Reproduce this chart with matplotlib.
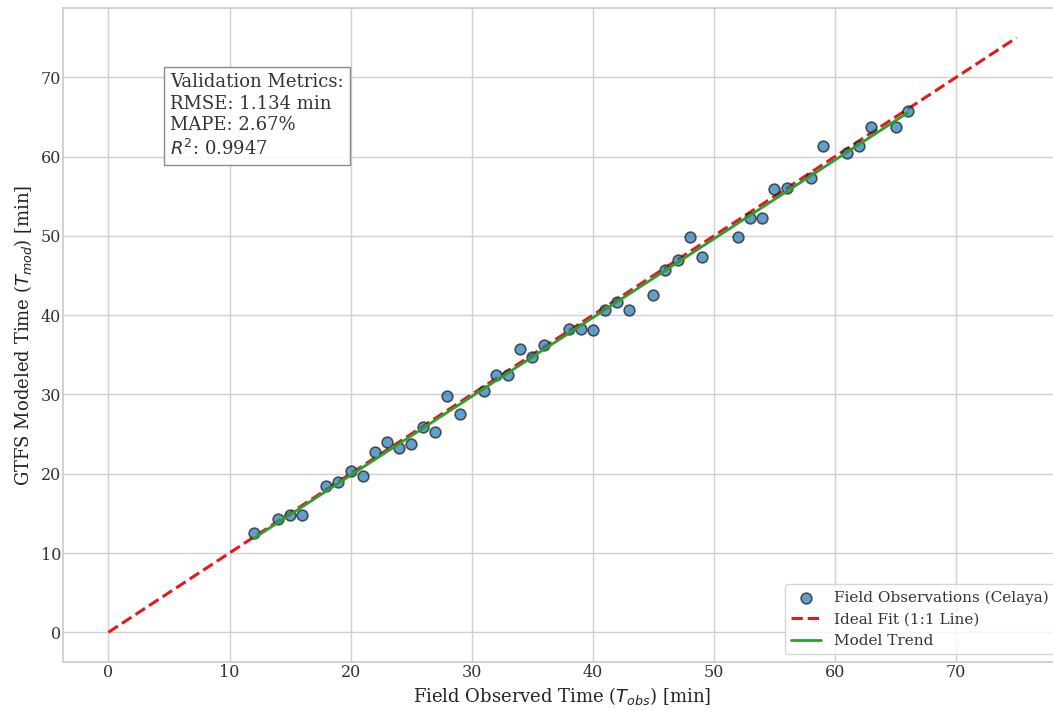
import numpy as np
import matplotlib
matplotlib.use("Agg")
import matplotlib.pyplot as plt
import seaborn as sns

# Data
t_obs = [12, 14, 15, 16, 18, 19, 20, 21, 22, 23, 24, 25, 26, 27, 28, 29,
         31, 32, 33, 34, 35, 36, 38, 39, 40, 41, 42, 43, 45, 46, 47, 48, 49,
         52, 53, 54, 55, 56, 58, 59, 61, 62, 63, 65, 66]
t_mod = [12.5, 14.25, 14.75, 14.75, 18.5, 19.0, 20.3, 19.7, 22.7, 24.0, 23.3,
         23.7, 25.9, 25.3, 29.8, 27.5, 30.4, 32.4, 32.5, 35.7, 34.7, 36.2,
         38.3, 38.3, 38.1, 40.7, 41.7, 40.6, 42.6, 45.7, 47.0, 49.9, 47.3,
         49.9, 52.3, 52.3, 55.9, 56.1, 57.3, 61.3, 60.4, 61.4, 63.8, 63.7, 65.8]
ideal = [0, 75]
metrics_text = "Validation Metrics:\nRMSE: 1.134 min\nMAPE: 2.67%\n$R^2$: 0.9947"

sns.set_theme(style="whitegrid")
plt.rcParams['font.family'] = ['DejaVu Serif']
plt.rcParams['mathtext.fontset'] = 'dejavusans'

fig = plt.figure(figsize=(10.53, 7.11), dpi=100)
ax = fig.add_axes([63/1053, 49/711, (1062-63)/1053, 654/711])

x = np.array(t_obs, dtype=float)
y = np.array(t_mod, dtype=float)

ax.scatter(x, y, s=60, facecolor='#1f77b4', alpha=0.7, edgecolors='k',
           linewidths=1.2, label='Field Observations (Celaya)', zorder=3)
ax.plot(ideal, ideal, color='#e31a1c', linestyle='--', linewidth=2.2,
        label='Ideal Fit (1:1 Line)', zorder=2)
m, b = np.polyfit(x, y, 1)
ax.plot(x, m * x + b, color='#2ca02c', linewidth=2.0, label='Model Trend', zorder=4)

ax.set_xlim(-3.75, 78.75)
ax.set_ylim(-3.75, 78.75)
ax.set_xticks(range(0, 71, 10))
ax.set_yticks(range(0, 71, 10))
ax.tick_params(labelsize=11.5, colors='#333333', pad=1.5, length=0)
ax.set_xlabel(r'Field Observed Time ($T_{obs}$) [min]', fontsize=13, color='#222222',
              labelpad=3)
ax.set_ylabel(r'GTFS Modeled Time ($T_{mod}$) [min]', fontsize=13, color='#222222',
              labelpad=5)
for sp in ax.spines.values():
    sp.set_color('#cccccc')
    sp.set_linewidth(1.25)
ax.grid(True, color='#d0d0d0', linewidth=1.0)

ax.text(0.107, 0.9, metrics_text, transform=ax.transAxes, fontsize=13,
        va='top', ha='left', color='#333333', linespacing=1.25,
        bbox=dict(boxstyle='square,pad=0.35', facecolor='white', edgecolor='gray', alpha=0.9))

leg = ax.legend(loc='lower right', fontsize=11, frameon=True, facecolor='white',
                edgecolor='#cccccc', framealpha=0.8)
for t in leg.get_texts():
    t.set_color('#333333')

fig.savefig('out.png', dpi=100)
